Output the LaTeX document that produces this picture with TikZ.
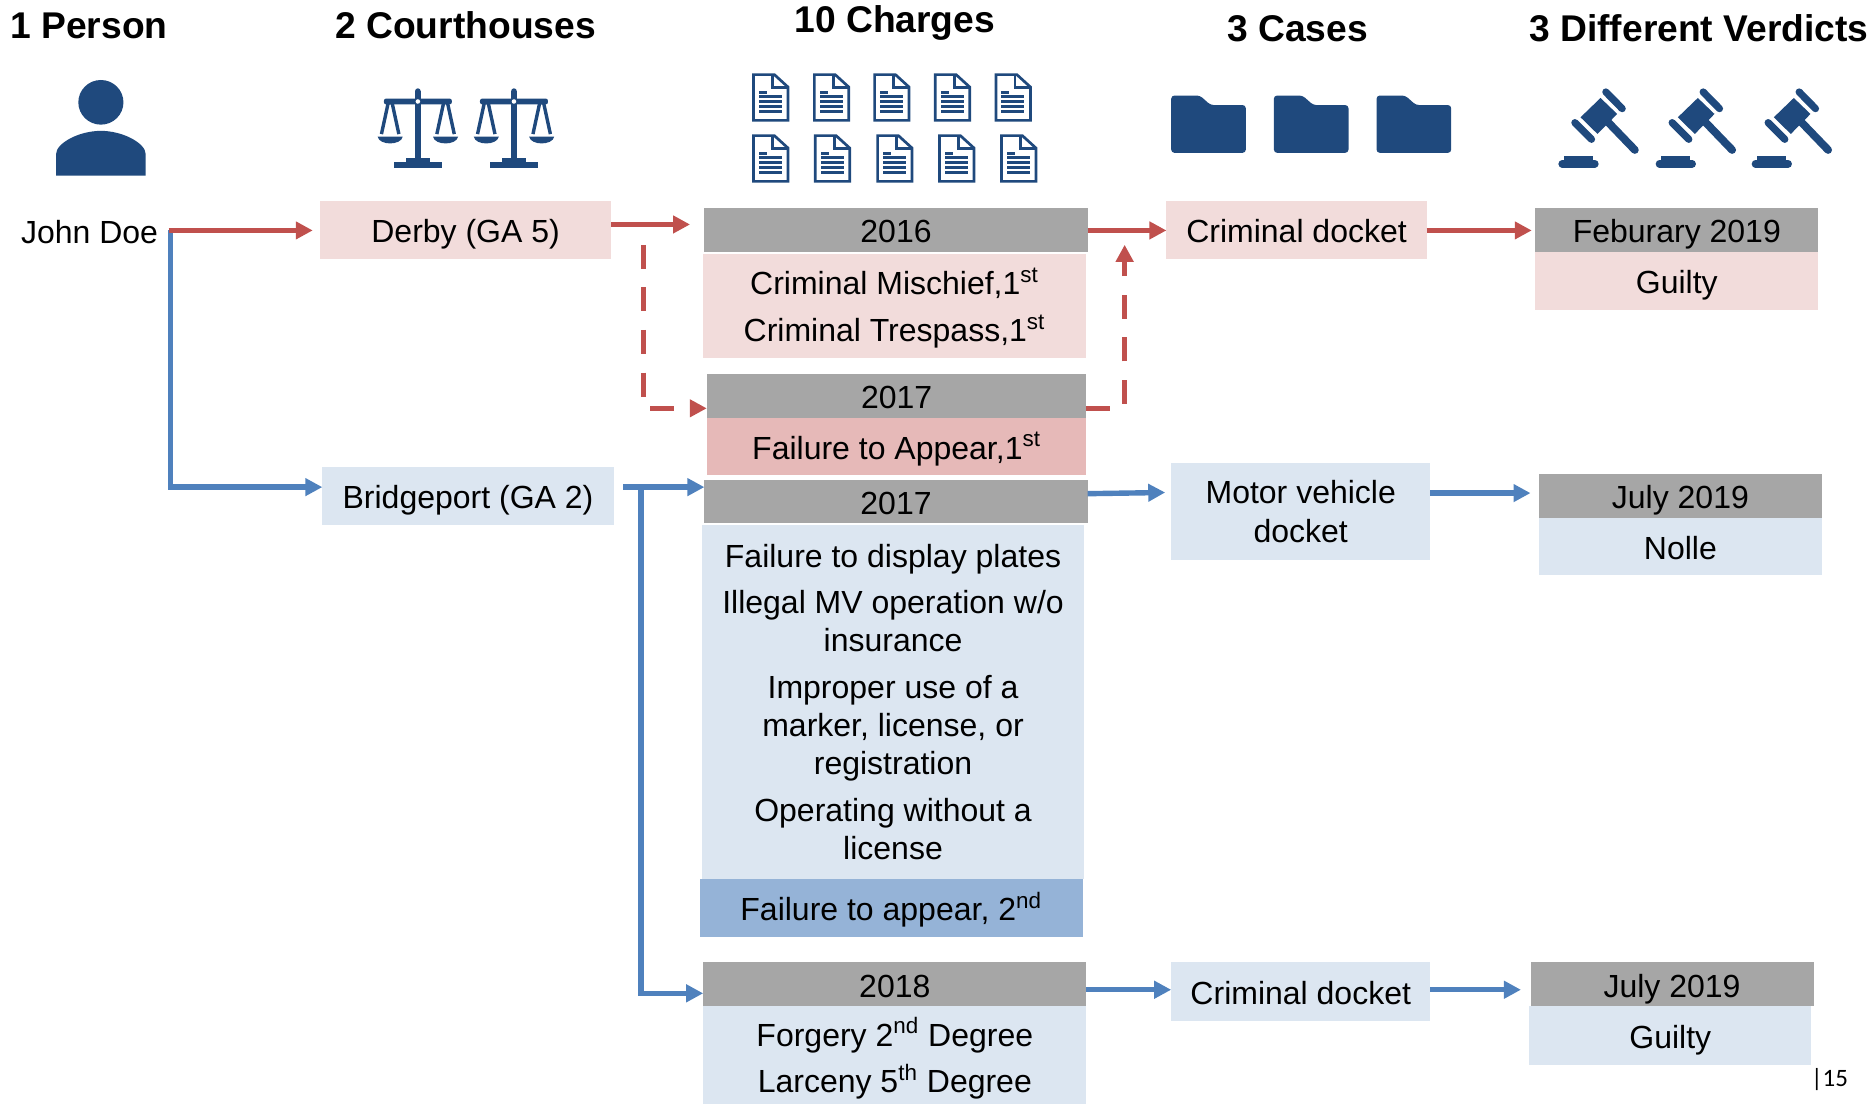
\documentclass[tikz,border=0pt]{standalone}
\usepackage{fontspec}
\setmainfont{Liberation Sans}
\newfontfamily\pagefont{Carlito}
\usetikzlibrary{arrows.meta}
\definecolor{pinkbox}{HTML}{F2DCDB}
\definecolor{bluebox}{HTML}{DCE6F1}
\definecolor{pinkdark}{HTML}{E6B9B8}
\definecolor{bluedark}{HTML}{95B3D7}
\definecolor{greybar}{HTML}{A6A6A6}
\definecolor{redline}{HTML}{C0504D}
\definecolor{blueline}{HTML}{4F81BD}
\definecolor{navy}{HTML}{1F497D}
\def\uu{0.59694pt}
\newcommand{\bx}[7]{\node[#6,minimum width={(#4-#2)*\uu},minimum height={(#5-#3)*\uu}] (#1) at ({(#2+#4)/2},{(#3+#5)/2}) {#7};}
\newcommand{\docicon}[2]{%
 \begin{scope}[shift={(#1,#2)}]
  \draw[navy,line width=1.35pt,line join=miter] (1.1,1.1) -- (18.5,1.1) -- (29.9,11.5) -- (29.9,39.4) -- (1.1,39.4) -- cycle;
  \draw[navy,line width=1.35pt] (17,1.1) -- (17,12) -- (29.9,12);
  \fill[navy] (5.6,14.8) rectangle (12.3,17);
  \foreach \yy in {18.2,22.4,26.6,30.7} \fill[navy] (5.6,\yy) rectangle (24.9,\yy+2.2);
 \end{scope}}
\newcommand{\scaleicon}[1]{%
 \begin{scope}[shift={(#1,0)}]
  \fill[navy] (-2.3,76) rectangle (2.3,137) ;
  \fill[navy,rounded corners=1.3pt] (-2.3,74) rectangle (2.3,90);
  \fill[navy,rounded corners=1.2pt] (-28.5,82.5) rectangle (28.5,87.5);
  \fill[white] (0,85) circle (1.9);
  \fill[navy] (-10,132) rectangle (10,137);
  \fill[navy] (-20.2,135.5) rectangle (20.2,141);
  \foreach \sx in {-23.2,23.2} {
   \draw[navy,line width=1.7pt] (\sx-7.3,112.3) -- (\sx-1.6,86) -- (\sx+1.6,86) -- (\sx+7.3,112.3);
   \fill[navy] (\sx-10.5,114.5) -- (\sx+10.5,114.5) .. controls (\sx+9,122) and (\sx-9,122) .. (\sx-10.5,114.5) -- cycle;
  }
 \end{scope}}
\newcommand{\gavelicon}[1]{%
 \begin{scope}[shift={(#1,58.6)},x=0.16667pt,y=-0.16667pt]
  \fill[navy] (152,142) -- (212,84) -- (262,132) -- (203,192) -- cycle;
  \draw[navy,line width=3.9pt,line cap=round] (235,157) -- (315,240);
  \draw[navy,line width=3.6pt,line cap=round] (228,66) -- (277,116);
  \draw[navy,line width=3.6pt,line cap=round] (135,158) -- (185,208);
  \draw[navy,line width=3.8pt,line cap=round] (97,281.5) -- (195,281.5);
  \fill[navy] (103,258) rectangle (188,272);
 \end{scope}}
\tikzset{
  every node/.style={inner sep=0pt,outer sep=0pt,align=center,font=\fontsize{16}{19.1}\selectfont},
  oneline/.style={text height=12.8pt,text depth=0pt},
  pinkfill/.style={fill=pinkbox},
  bluefill/.style={fill=bluebox},
  pinkdeep/.style={fill=pinkdark},
  bluedeep/.style={fill=bluedark},
  greyhead/.style={fill=greybar,oneline},
  title/.style={font=\fontsize{18.6}{22}\selectfont\bfseries,text height=13.3pt,text depth=0pt},
  conn/.style={line width=2.7pt,-{Triangle[length=8.5pt,width=8.5pt]}},
  redconn/.style={conn,draw=redline,color=redline},
  blueconn/.style={conn,draw=blueline,color=blueline},
  reddash/.style={redconn,dash pattern=on 12pt off 9.3pt},
}
\begin{document}
\begin{tikzpicture}[x=0.59694pt,y=-0.59694pt]
\useasboundingbox (0,0) rectangle (1568,925);
% titles
\node[title] (t1) at (74.5,21) {1 Person};
\node[title] (t2) at (390,21) {2 Courthouses};
\node[title] (t3) at (749.5,16) {10 Charges};
\node[title] (t4) at (1087,24) {3 Cases};
\node[title] (t5) at (1423,24) {3 Different Verdicts};
% person icon
\fill[navy] (84.5,85.7) ellipse (18.9 and 18.7);
\fill[navy] (47,147) -- (47,129) .. controls (47,120) and (66,109.6) .. (84.5,109.6) .. controls (103,109.6) and (122,120) .. (122,129) -- (122,147) -- cycle;
% scales
\scaleicon{350}
\scaleicon{430.5}
% documents
\docicon{630.1}{61.4}\docicon{681}{61.4}\docicon{731.5}{61.4}\docicon{782.3}{61.4}\docicon{833.2}{61.4}
\docicon{630.1}{112.5}\docicon{681.8}{112.5}\docicon{734}{112.5}\docicon{785.9}{112.5}\docicon{837.8}{112.5}
% folders
\foreach \fx in {981,1067,1153} {
  \fill[navy,rounded corners=1.6pt] (\fx,128) -- (\fx,80) -- (\fx+24,80) -- (\fx+33,88) -- (\fx+62.5,88) -- (\fx+62.5,128) -- cycle;
}
% gavels
\gavelicon{1281.4}
\gavelicon{1362.9}
\gavelicon{1443.3}
% nodes
\node[oneline] (john) at (75,193) {John Doe};
\bx{derby}{268}{168}{512}{217}{pinkfill,oneline}{Derby (GA 5)}
\bx{bridge}{270}{391}{514}{440}{bluefill,oneline}{Bridgeport (GA 2)}
\bx{hA}{590}{174}{911}{211}{greyhead}{2016}
\bx{bA}{588.5}{212.5}{910}{300}{pinkfill}{\rule{0pt}{15.5pt}Criminal Mischief,1\textsuperscript{st}\\[4.4pt]Criminal Trespass,1\textsuperscript{st}}
\bx{hB}{592}{313}{910}{350}{greyhead}{2017}
\bx{bB}{592}{350}{910}{398}{pinkdeep,oneline}{Failure to Appear,1\textsuperscript{st}}
\bx{hC}{590}{402}{911}{438}{greyhead}{2017}
\bx{bC}{588}{440}{908}{736}{bluefill}{Failure to display plates\\[4.2pt]Illegal MV operation w/o\\insurance\\[4.2pt]Improper use of a\\marker, license, or\\registration\\[4.2pt]Operating without a\\license}
\bx{bD}{586}{736}{907}{785}{bluedeep,oneline}{Failure to appear, 2\textsuperscript{nd}}
\bx{hE}{589}{806}{910}{843}{greyhead}{2018}
\bx{bE}{589}{843}{910}{925}{bluefill}{\rule{0pt}{17.5pt}Forgery 2\textsuperscript{nd} Degree\\[4.2pt]Larceny 5\textsuperscript{th} Degree}
\bx{cA}{977}{168}{1195}{217}{pinkfill,oneline}{Criminal docket}
\bx{cB}{981}{388}{1198}{469}{bluefill}{Motor vehicle\\docket}
\bx{cC}{981}{806}{1198}{855}{bluefill,oneline}{Criminal docket}
\bx{vAh}{1286}{174}{1523}{211}{greyhead}{Feburary 2019}
\bx{vAb}{1286}{211}{1523}{260}{pinkfill,oneline}{Guilty}
\bx{vBh}{1289}{397}{1526}{434}{greyhead}{July 2019}
\bx{vBb}{1289}{434}{1526}{482}{bluefill,oneline}{Nolle}
\bx{vCh}{1282}{806}{1519}{843}{greyhead}{July 2019}
\bx{vCb}{1281}{843}{1517}{892}{bluefill,oneline}{Guilty}
\node[font=\fontsize{12.5}{14}\pagefont,anchor=west] (pg) at (1517,904) {|15};
% free ends of connectors
\coordinate (jdJ) at (143,193);
\coordinate (dD) at (539,205);
\coordinate (dU) at (942,205);
\coordinate (aA) at (578,188);
\coordinate (bS) at (522,408);
\coordinate (bJ) at (537,408);
% connectors
\draw[blueconn] (jdJ) |- (bridge.west |- 0,408);
\draw[redconn] ([xshift=-1pt]jdJ) -- ([xshift=-3.6pt]derby.west |- 0,193);
\draw[redconn] (derby.east |- aA) -- (aA);
\draw[reddash] (dD) |- (hB.west |- 0,342);
\draw[redconn] (hA.east |- 0,193) -- (cA.west |- 0,193);
\draw[reddash] (hB.east |- 0,342) -| (dU);
\draw[redconn] (cA.east |- 0,193) -- ([xshift=-1.8pt]vAh.west |- 0,193);
\draw[blueconn] (bS) -- (hC.west |- bS);
\draw[blueconn] (bJ) |- (hE.west |- 0,832);
\draw[blueconn] (hC.east |- 0,413.5) -- ([xshift=-3pt]cB.west |- 0,412.5);
\draw[blueconn] (cB.east |- 0,413) -- ([xshift=-4.2pt]vBh.west |- 0,413);
\draw[blueconn] (hE.east |- 0,829) -- (cC.west |- 0,829);
\draw[blueconn] (cC.east |- 0,829) -- ([xshift=-4.8pt]vCh.west |- 0,829);
\end{tikzpicture}
\end{document}
